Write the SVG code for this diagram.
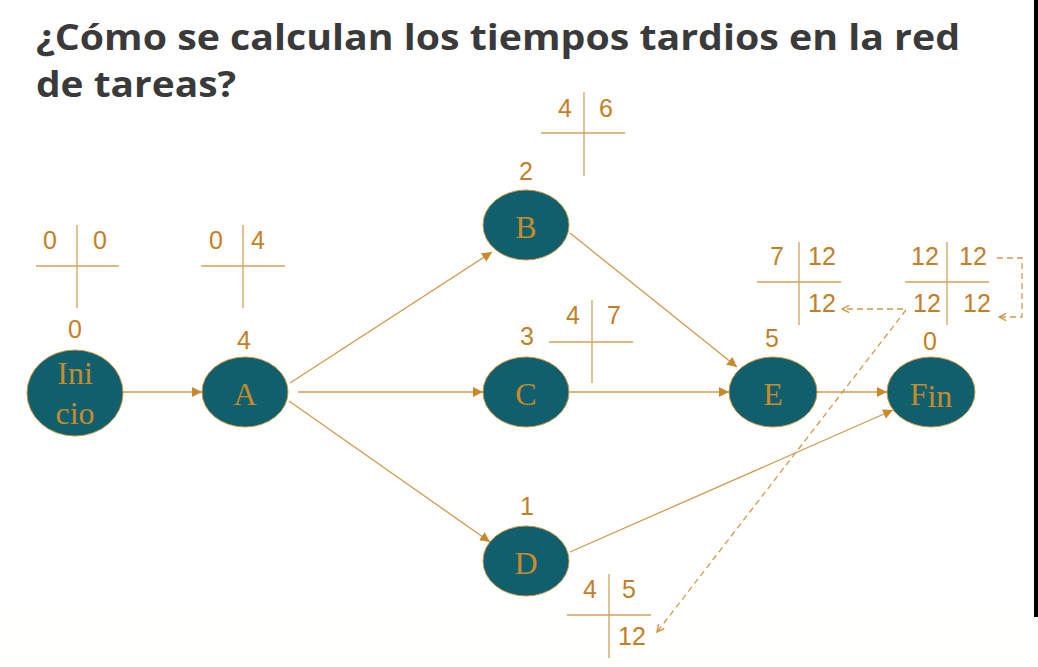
<svg xmlns="http://www.w3.org/2000/svg" width="1038" height="667" viewBox="0 0 1038 667">
<defs>
<style>
.title{font-family:"Open Sans","Liberation Sans",sans-serif;font-weight:700;font-size:36px;fill:#3a3a3a}
.node{fill:#0f5f6c;stroke:#c9923e;stroke-width:1}
.lbl{font-family:"Liberation Serif",serif;font-size:32px;fill:#c98a2c;text-anchor:middle}
.num{font-family:"Liberation Sans",sans-serif;font-size:25px;fill:#c27f25;text-anchor:middle}
.cross{stroke:#d2a15a;stroke-width:1.3;fill:none}
.edge{stroke:#d09a4c;stroke-width:1.3;fill:none}
.dash{stroke:#d09a4c;stroke-width:1.3;fill:none;stroke-dasharray:6 4}
</style>
<marker id="arr" viewBox="0 0 10 10" refX="10" refY="5" markerWidth="10" markerHeight="10" markerUnits="userSpaceOnUse" orient="auto">
<path d="M0,0 L10,5 L0,10 Z" fill="#c98a2c"/>
</marker>
<marker id="open" viewBox="0 0 10 10" refX="9" refY="5" markerWidth="9" markerHeight="9" markerUnits="userSpaceOnUse" orient="auto">
<path d="M1,1 L9,5 L1,9" fill="none" stroke="#d09a4c" stroke-width="1.6"/>
</marker>
</defs>
<rect x="0" y="0" width="1038" height="667" fill="#ffffff"/>
<rect x="0" y="617" width="1038" height="50" fill="#fefefc"/>
<rect x="1034" y="0" width="4" height="617" fill="#000000"/>

<text class="title" x="36" y="50" textLength="924" lengthAdjust="spacingAndGlyphs">¿Cómo se calculan los tiempos tardios en la red</text>
<text class="title" x="36" y="97" textLength="200" lengthAdjust="spacingAndGlyphs">de tareas?</text>

<g id="connectors">
<line class="edge" x1="123" y1="392" x2="202" y2="392" marker-end="url(#arr)"/>
<line class="edge" x1="290" y1="383" x2="492" y2="252" marker-end="url(#arr)"/>
<line class="edge" x1="298" y1="392" x2="483" y2="392" marker-end="url(#arr)"/>
<line class="edge" x1="289" y1="401" x2="490" y2="542" marker-end="url(#arr)"/>
<line class="edge" x1="570" y1="233" x2="737" y2="367" marker-end="url(#arr)"/>
<line class="edge" x1="570" y1="392" x2="729" y2="392" marker-end="url(#arr)"/>
<line class="edge" x1="817" y1="392" x2="887" y2="392" marker-end="url(#arr)"/>
<line class="edge" x1="570" y1="552" x2="893" y2="410" marker-end="url(#arr)"/>
<line class="dash" x1="903" y1="309" x2="842" y2="309" marker-end="url(#open)"/>
<polyline class="dash" points="997,258 1022,258 1022,317 999,317" marker-end="url(#open)"/>
<line class="dash" x1="906" y1="310" x2="657" y2="632" marker-end="url(#open)"/>
</g>

<g id="node-inicio">
<ellipse class="node" cx="75" cy="393" rx="48" ry="43"/>
<text class="lbl" x="75" y="384">Ini</text>
<text class="lbl" x="75" y="424">cio</text>
<text class="num" x="75" y="338">0</text>
<path class="cross" d="M36,266 H119 M77,225 V308"/>
<text class="num" x="50" y="249">0</text>
<text class="num" x="100" y="249">0</text>
</g>

<g id="node-a">
<ellipse class="node" cx="245" cy="392" rx="43" ry="35"/>
<text class="lbl" x="245" y="405">A</text>
<text class="num" x="244" y="349">4</text>
<path class="cross" d="M201,266 H285 M243,225 V308"/>
<text class="num" x="216" y="249">0</text>
<text class="num" x="258" y="249">4</text>
</g>

<g id="node-b">
<ellipse class="node" cx="526" cy="225" rx="43" ry="35"/>
<text class="lbl" x="526" y="238">B</text>
<text class="num" x="526" y="180">2</text>
<path class="cross" d="M541,133 H625 M584,92 V176"/>
<text class="num" x="565" y="117">4</text>
<text class="num" x="606" y="117">6</text>
</g>

<g id="node-c">
<ellipse class="node" cx="526" cy="392" rx="43" ry="35"/>
<text class="lbl" x="526" y="405">C</text>
<text class="num" x="527" y="345">3</text>
<path class="cross" d="M549,342 H633 M592,300 V383"/>
<text class="num" x="573" y="324">4</text>
<text class="num" x="614" y="324">7</text>
</g>

<g id="node-d">
<ellipse class="node" cx="526" cy="561" rx="43" ry="35"/>
<text class="lbl" x="526" y="574">D</text>
<text class="num" x="527" y="515">1</text>
<path class="cross" d="M567,615 H651 M609,574 V658"/>
<text class="num" x="590" y="598">4</text>
<text class="num" x="629" y="598">5</text>
<text class="num" x="632" y="645">12</text>
</g>

<g id="node-e">
<ellipse class="node" cx="773" cy="392" rx="44" ry="35"/>
<text class="lbl" x="773" y="405">E</text>
<text class="num" x="772" y="347">5</text>
<path class="cross" d="M757,282 H841 M799,242 V325"/>
<text class="num" x="777" y="265">7</text>
<text class="num" x="822" y="265">12</text>
<text class="num" x="822" y="312">12</text>
</g>

<g id="node-fin">
<ellipse class="node" cx="931" cy="392" rx="44" ry="35"/>
<text class="lbl" x="931" y="405">F<tspan dy="2">in</tspan></text>
<text class="num" x="930" y="350">0</text>
<path class="cross" d="M905,282 H989 M947,242 V325"/>
<text class="num" x="925" y="265">12</text>
<text class="num" x="973" y="265">12</text>
<text class="num" x="927" y="312">12</text>
<text class="num" x="977" y="312">12</text>
</g>
</svg>
